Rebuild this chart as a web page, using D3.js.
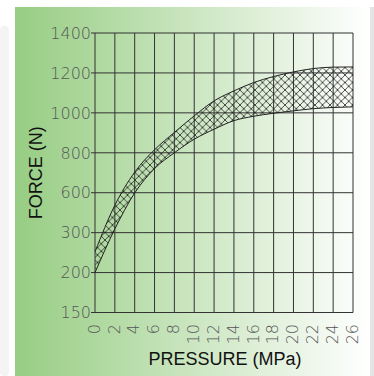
<!DOCTYPE html>
<html>
<head>
<meta charset="utf-8">
<script src="https://cdn.jsdelivr.net/npm/d3@7"></script>
<style>
  html, body { margin: 0; padding: 0; background: #fff; }
  svg { display: block; }
</style>
</head>
<body>
<script>
// chart values
const pressure = [0, 2, 4, 6, 8, 10, 12, 14, 16, 18, 20, 22, 24, 26]
const forceUpper = [252, 506, 703, 815, 902, 985, 1060, 1110, 1152, 1182, 1205, 1222, 1229, 1230]
const forceLower = [200, 328, 598, 721, 800, 868, 918, 961, 983, 998, 1010, 1021, 1027, 1030]
const yTicks = [150, 200, 300, 600, 800, 1000, 1200, 1400]
const xTicks = [0, 2, 4, 6, 8, 10, 12, 14, 16, 18, 20, 22, 24, 26]

const width = 374
const height = 376
const plotLeft = 95, plotRight = 353, plotTop = 33, plotBottom = 312.5
const hs = 7.5 // hatch cell

const svg = d3.select("body").append("svg")
    .attr("width", width)
    .attr("height", height)

const defs = svg.append("defs")
const grad = defs.append("linearGradient")
    .attr("id", "bg")
    .attr("x1", "0%").attr("x2", "100%").attr("y1", "0%").attr("y2", "0%")
grad.append("stop").attr("offset", "0%").attr("stop-color", "#97cd83")
grad.append("stop").attr("offset", "100%").attr("stop-color", "#ffffff")

const hatch = defs.append("pattern")
    .attr("id", "hatch")
    .attr("patternUnits", "userSpaceOnUse")
    .attr("width", hs).attr("height", hs)
hatch.append("path")
    .attr("d", `M0,0L${hs},${hs}M${hs},0L0,${hs}M-1,${hs-1}L1,${hs+1}M${hs-1},-1L${hs+1},1M-1,1L1,-1M${hs-1},${hs+1}L${hs+1},${hs-1}`)
    .attr("stroke", "#222")
    .attr("stroke-width", 0.8)

// page frame
svg.append("rect").attr("x", 0).attr("y", 26).attr("width", 9).attr("height", 350)
    .attr("rx", 4).attr("fill", "#f4f4f4")
svg.append("rect").attr("x", 15).attr("y", 7).attr("width", 355).attr("height", 369)
    .attr("fill", "url(#bg)")
svg.append("rect").attr("x", 370).attr("y", 7).attr("width", 4).attr("height", 369)
    .attr("fill", "#e4e4e4")

const x = d3.scaleLinear().domain([0, 26]).range([plotLeft, plotRight])
const step = (plotBottom - plotTop) / (yTicks.length - 1)
const y = d3.scaleLinear()
    .domain(yTicks)
    .range(yTicks.map((d, i) => plotBottom - i * step))

// grid
const grid = svg.append("g").attr("stroke", "#333").attr("stroke-width", 1)
grid.selectAll(".vline").data(xTicks).enter().append("line")
    .attr("x1", d => x(d)).attr("x2", d => x(d))
    .attr("y1", plotTop).attr("y2", plotBottom)
grid.selectAll(".hline").data(yTicks).enter().append("line")
    .attr("x1", plotLeft - 4).attr("x2", plotRight)
    .attr("y1", d => y(d)).attr("y2", d => y(d))

// band
const band = pressure.map((p, i) => ({ p, lo: forceLower[i], hi: forceUpper[i] }))
svg.append("path")
    .datum(band)
    .attr("fill", "url(#hatch)")
    .attr("d", d3.area().x(d => x(d.p)).y0(d => y(d.lo)).y1(d => y(d.hi)).curve(d3.curveMonotoneX))
const line = d3.line().x(d => x(d[0])).y(d => y(d[1])).curve(d3.curveMonotoneX)
svg.append("path")
    .datum(pressure.map((p, i) => [p, forceUpper[i]]))
    .attr("fill", "none").attr("stroke", "#222").attr("stroke-width", 1)
    .attr("d", line)
svg.append("path")
    .datum(pressure.map((p, i) => [p, forceLower[i]]))
    .attr("fill", "none").attr("stroke", "#222").attr("stroke-width", 1)
    .attr("d", line)

// tick labels
svg.selectAll(".ylab").data(yTicks).enter().append("text")
    .attr("x", plotLeft - 4)
    .attr("y", d => y(d))
    .attr("dy", "0.36em")
    .attr("text-anchor", "end")
    .style("font-family", "'DejaVu Sans', sans-serif")
    .style("font-weight", 200)
    .style("font-size", "16px")
    .attr("fill", "#555")
    .text(d => d)

svg.selectAll(".xlab").data(xTicks).enter().append("text")
    .attr("transform", d => `translate(${x(d) - 1},${324}) rotate(-90)`)
    .attr("dy", "0.36em")
    .attr("text-anchor", "end")
    .style("font-family", "'DejaVu Sans', sans-serif")
    .style("font-weight", 200)
    .style("font-size", "16px")
    .attr("fill", "#555")
    .text(d => d)

// axis titles
svg.append("text")
    .attr("transform", `translate(42,${(plotTop + plotBottom) / 2}) rotate(-90)`)
    .attr("text-anchor", "middle")
    .style("font-family", "'Liberation Sans', Arial, sans-serif")
    .style("font-size", "18px")
    .attr("fill", "#111")
    .text("FORCE (N)")
svg.append("text")
    .attr("x", (plotLeft + plotRight) / 2 + 1)
    .attr("y", 365)
    .attr("text-anchor", "middle")
    .style("font-family", "'Liberation Sans', Arial, sans-serif")
    .style("font-size", "18px")
    .attr("fill", "#111")
    .text("PRESSURE (MPa)")
</script>
</body>
</html>
